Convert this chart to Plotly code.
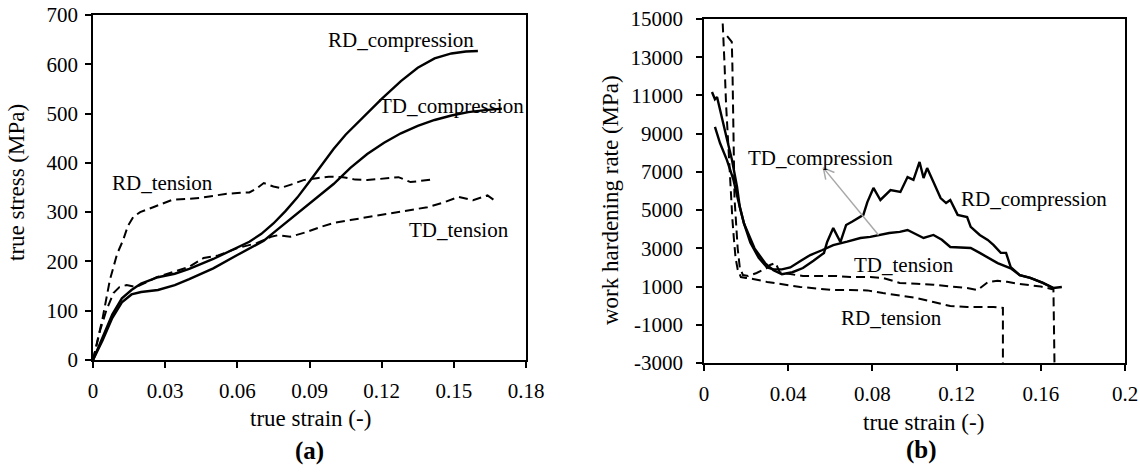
import numpy as np
import plotly.graph_objects as go

# ---------------- (a) true stress - true strain ----------------
a_rd_comp_x = [0, 0.004, 0.008, 0.012, 0.016, 0.02, 0.027, 0.034, 0.04, 0.05, 0.06, 0.065, 0.07, 0.075, 0.08,
               0.085, 0.09, 0.095, 0.1, 0.105, 0.11, 0.114, 0.12, 0.128, 0.135, 0.142, 0.149, 0.155, 0.16]
a_rd_comp_y = [0, 45, 92, 125, 142, 155, 168, 175, 185, 205, 228, 240, 256, 277, 302,
               330, 362, 396, 428, 457, 482, 501, 530, 566, 593, 612, 622, 626, 627]

a_td_comp_x = [0, 0.004, 0.008, 0.012, 0.016, 0.02, 0.027, 0.034, 0.04, 0.05, 0.06, 0.066, 0.071, 0.076,
               0.082, 0.088, 0.0946, 0.1, 0.107, 0.114, 0.121, 0.128, 0.135, 0.142, 0.149, 0.156, 0.163, 0.17]
a_td_comp_y = [0, 40, 85, 117, 133, 138, 142, 152, 164, 186, 213, 228, 242, 262,
               286, 310, 335, 357, 390, 418, 441, 460, 475, 487, 496, 503, 507, 510]

a_rd_ten_x = [0, 0.0017, 0.004, 0.007, 0.01, 0.0125, 0.0145, 0.0167, 0.0196, 0.025, 0.033, 0.04, 0.0446,
              0.05, 0.055, 0.06, 0.065, 0.068, 0.071, 0.075, 0.078, 0.083, 0.0875, 0.093, 0.098, 0.104,
              0.109, 0.114, 0.12, 0.127, 0.132, 0.137, 0.142]
a_rd_ten_y = [0, 34, 85, 162, 215, 243, 272, 290, 300, 310, 325, 327, 329,
              333, 337, 339, 340, 348, 359, 352, 349, 357, 365, 369, 372, 371,
              366, 365, 368, 371, 361, 364, 367]

a_td_ten_x = [0, 0.003, 0.0055, 0.0085, 0.011, 0.014, 0.018, 0.0225, 0.0265, 0.033, 0.04, 0.046, 0.052,
              0.06, 0.068, 0.074, 0.0767, 0.082, 0.089, 0.0946, 0.1, 0.107, 0.114, 0.12, 0.127, 0.133,
              0.139, 0.146, 0.152, 0.158, 0.164, 0.168]
a_td_ten_y = [0, 61, 100, 136, 148, 152, 148, 158, 168, 178, 189, 207, 212,
              227, 237, 250, 253, 250, 260, 270, 278, 284, 290, 295, 300, 305,
              310, 320, 331, 324, 334, 320]

# ---------------- (b) work hardening rate - true strain ----------------
b_rd_comp_x = [0.0038, 0.0052, 0.0062, 0.0086, 0.011, 0.0133, 0.0157, 0.017, 0.019, 0.024, 0.029, 0.033,
               0.037, 0.042, 0.047, 0.052, 0.057, 0.0585, 0.0614, 0.0648, 0.0675, 0.0705, 0.0735, 0.0757,
               0.0776, 0.0805, 0.0838, 0.0886, 0.0933, 0.0967, 0.0995, 0.1024, 0.1043, 0.106, 0.109,
               0.1124, 0.115, 0.117, 0.1205, 0.125, 0.1267, 0.131, 0.1348, 0.1376, 0.141, 0.1435,
               0.1457, 0.15, 0.155, 0.161, 0.166, 0.170]
b_rd_comp_y = [11180, 10800, 10920, 9870, 8670, 7620, 6210, 5160, 4300, 3000, 2230, 1850,
               1650, 1750, 1970, 2350, 2760, 3330, 4060, 3330, 4220, 4400, 4590, 4750,
               5420, 6160, 5530, 6050, 5950, 6730, 6580, 7520, 6680, 7200, 6470,
               5630, 5370, 5530, 4750, 4640, 4120, 3700, 3440, 3170, 2760, 2760,
               2020, 1600, 1450, 1190, 925, 980]

b_td_comp_x = [0.0052, 0.0076, 0.0109, 0.014, 0.0162, 0.019, 0.022, 0.026, 0.03, 0.033, 0.037, 0.041,
               0.046, 0.0505, 0.056, 0.0614, 0.068, 0.0743, 0.079, 0.0838, 0.088, 0.093, 0.0967,
               0.1005, 0.1043, 0.109, 0.113, 0.117, 0.122, 0.1267, 0.131, 0.1355, 0.1395, 0.1457,
               0.15, 0.155, 0.161, 0.166]
b_td_comp_y = [9350, 8510, 7620, 6580, 5530, 4300, 3300, 2500, 2000, 1900, 1900, 2000,
               2350, 2650, 2900, 3170, 3350, 3540, 3600, 3700, 3800, 3860, 3960,
               3750, 3540, 3700, 3450, 3070, 3050, 3020, 2760, 2500, 2230, 1950,
               1600, 1450, 1190, 925]

b_rd_ten_x = [0.0086, 0.0092, 0.0098, 0.0105, 0.0112, 0.012, 0.0128, 0.0135, 0.0142, 0.015, 0.016,
              0.0175, 0.02, 0.0233, 0.03, 0.038, 0.0457, 0.0535, 0.0614, 0.0695, 0.0776, 0.085, 0.093,
              0.101, 0.109, 0.117, 0.125, 0.1376, 0.142, 0.142]
b_rd_ten_y = [15500, 14200, 12500, 10500, 9000, 7500, 6000, 4500, 3500, 2500, 1900,
              1500, 1450, 1400, 1240, 1100, 980, 900, 820, 820, 800, 660, 520,
              400, 190, -20, -70, -70, -120, -3000]

b_td_ten_x = [0.011, 0.0125, 0.0132, 0.0135, 0.0137, 0.0138, 0.014, 0.0145, 0.015, 0.016, 0.017, 0.0185,
              0.021, 0.025, 0.0295, 0.0314, 0.034, 0.036, 0.041, 0.047, 0.055, 0.063, 0.0695, 0.079,
              0.085, 0.093, 0.101, 0.109, 0.117, 0.125, 0.130, 0.135, 0.1395, 0.144, 0.149, 0.155,
              0.160, 0.166, 0.1665]
b_td_ten_y = [14100, 13900, 13800, 12500, 11000, 9100, 7400, 5600, 4750, 3000, 2000, 1600,
              1550, 1710, 1950, 2130, 2230, 1750, 1650, 1550, 1550, 1550, 1500, 1500,
              1450, 1190, 1150, 1100, 1000, 925, 820, 1240, 1300, 1250, 1150, 1050,
              1000, 850, -3000]

a_xticks = [0, 0.03, 0.06, 0.09, 0.12, 0.15, 0.18]
a_xlabels = ["0", "0.03", "0.06", "0.09", "0.12", "0.15", "0.18"]
a_yticks = [0, 100, 200, 300, 400, 500, 600, 700]
a_ylabels = ["0", "100", "200", "300", "400", "500", "600", "700"]
b_xticks = [0, 0.04, 0.08, 0.12, 0.16, 0.2]
b_xlabels = ["0", "0.04", "0.08", "0.12", "0.16", "0.2"]
b_yticks = [-3000, -1000, 1000, 3000, 5000, 7000, 9000, 11000, 13000, 15000]
b_ylabels = ["-3000", "-1000", "1000", "3000", "5000", "7000", "9000", "11000", "13000", "15000"]

# arrow (TD_compression label -> curve) in data units of panel (b)
arrow_head = (0.0567, 7209)
arrow_tail = (0.0829, 3700)

W, H = 1140, 472
FONT = "Liberation Serif"


def fx(p):
    return p / W


def fy(p):
    return 1 - p / H


dom_a_x = [fx(93), fx(526)]
dom_a_y = [fy(360), fy(15)]
dom_b_x = [fx(704), fx(1125)]
dom_b_y = [fy(363), fy(19)]
a_xr, a_yr = [0, 0.18], [0, 700]
b_xr, b_yr = [0, 0.2], [-3000, 15000]

fig = go.Figure()
solid = dict(color="black", width=2.4)
dashed = dict(color="black", width=2.0, dash="9px,5px")

fig.add_trace(go.Scatter(x=a_rd_comp_x, y=a_rd_comp_y, mode="lines", line=solid, xaxis="x", yaxis="y"))
fig.add_trace(go.Scatter(x=a_td_comp_x, y=a_td_comp_y, mode="lines", line=solid, xaxis="x", yaxis="y"))
fig.add_trace(go.Scatter(x=a_rd_ten_x, y=a_rd_ten_y, mode="lines", line=dashed, xaxis="x", yaxis="y"))
fig.add_trace(go.Scatter(x=a_td_ten_x, y=a_td_ten_y, mode="lines", line=dashed, xaxis="x", yaxis="y"))

fig.add_trace(go.Scatter(x=b_rd_comp_x, y=b_rd_comp_y, mode="lines", line=solid, xaxis="x2", yaxis="y2"))
fig.add_trace(go.Scatter(x=b_td_comp_x, y=b_td_comp_y, mode="lines", line=solid, xaxis="x2", yaxis="y2"))
fig.add_trace(go.Scatter(x=b_rd_ten_x, y=b_rd_ten_y, mode="lines", line=dashed, xaxis="x2", yaxis="y2"))
fig.add_trace(go.Scatter(x=b_td_ten_x, y=b_td_ten_y, mode="lines", line=dashed, xaxis="x2", yaxis="y2"))

# gray arrow with open head
sx = (dom_b_x[1] - dom_b_x[0]) * W / (b_xr[1] - b_xr[0])
sy = (dom_b_y[1] - dom_b_y[0]) * H / (b_yr[1] - b_yr[0])
hx, hy = arrow_head
tx, ty = arrow_tail
dxp, dyp = (tx - hx) * sx, (ty - hy) * sy
L = np.hypot(dxp, dyp)
ux, uy = dxp / L, dyp / L
wing = 12
pts = []
for ang in (np.radians(28), -np.radians(28)):
    rx = ux * np.cos(ang) - uy * np.sin(ang)
    ry = ux * np.sin(ang) + uy * np.cos(ang)
    pts.append((hx + rx * wing / sx, hy + ry * wing / sy))
fig.add_trace(go.Scatter(x=[tx, hx], y=[ty, hy], mode="lines",
                         line=dict(color="#a8a8a8", width=1.5), xaxis="x2", yaxis="y2"))
fig.add_trace(go.Scatter(x=[pts[0][0], hx, pts[1][0]], y=[pts[0][1], hy, pts[1][1]], mode="lines",
                         line=dict(color="#a8a8a8", width=1.5), xaxis="x2", yaxis="y2"))

axis_common = dict(showgrid=False, zeroline=False, showline=True, linecolor="black", linewidth=1.8,
                   mirror=True, ticks="outside", ticklen=6, tickwidth=1.5, tickcolor="black",
                   automargin=False, ticklabeloverflow="allow",
                   tickfont=dict(family=FONT, size=21, color="black"))

fig.update_layout(
    width=W, height=H, margin=dict(l=0, r=0, t=0, b=0, pad=0, autoexpand=False),
    paper_bgcolor="white", plot_bgcolor="white", showlegend=False, hovermode=False,
    xaxis=dict(domain=dom_a_x, range=a_xr, tickvals=a_xticks, ticktext=a_xlabels, anchor="y",
               ticklabelstandoff=5, **axis_common),
    yaxis=dict(domain=dom_a_y, range=a_yr, tickvals=a_yticks, ticktext=a_ylabels, anchor="x",
               ticklabelstandoff=3, **axis_common),
    xaxis2=dict(domain=dom_b_x, range=b_xr, tickvals=b_xticks, ticktext=b_xlabels, anchor="y2",
                ticklabelstandoff=5, **axis_common),
    yaxis2=dict(domain=dom_b_y, range=b_yr, tickvals=b_yticks, ticktext=b_ylabels, anchor="x2",
                ticklabelstandoff=9, **axis_common),
)

lab = dict(family=FONT, size=21, color="black")
labels = [
    ("x", "y", 0.128, 649, "RD_compression"),
    ("x", "y", 0.149, 515, "TD_compression"),
    ("x", "y", 0.029, 359, "RD_tension"),
    ("x", "y", 0.152, 264, "TD_tension"),
    ("x2", "y2", 0.0552, 7733, "TD_compression"),
    ("x2", "y2", 0.157, 5586, "RD_compression"),
    ("x2", "y2", 0.0952, 2131, "TD_tension"),
    ("x2", "y2", 0.089, -644, "RD_tension"),
]
for xr, yr, x, y, t in labels:
    fig.add_annotation(xref=xr, yref=yr, x=x, y=y, text=t, showarrow=False, font=lab,
                       xanchor="center", yanchor="middle")

title_font = dict(family=FONT, size=23, color="black")
paper_text = [
    (310, 418, "true strain (-)", 0, title_font),
    (923, 422, "true strain (-)", 0, title_font),
    (17, 183, "true stress (MPa)", -90, title_font),
    (610, 200, "work hardening rate (MPa)", -90, title_font),
    (309, 451, "<b>(a)</b>", 0, dict(family=FONT, size=25, color="black")),
    (921, 450, "<b>(b)</b>", 0, dict(family=FONT, size=25, color="black")),
]
for px, py, t, ang, f in paper_text:
    fig.add_annotation(xref="paper", yref="paper", x=fx(px), y=fy(py), text=t, showarrow=False,
                       textangle=ang, font=f, xanchor="center", yanchor="middle")

# the page's default body margin would shift the figure by 8 px; remove it
fig.write_html("out.html", config={"displayModeBar": False},
               post_script="document.body.style.margin='0';")
